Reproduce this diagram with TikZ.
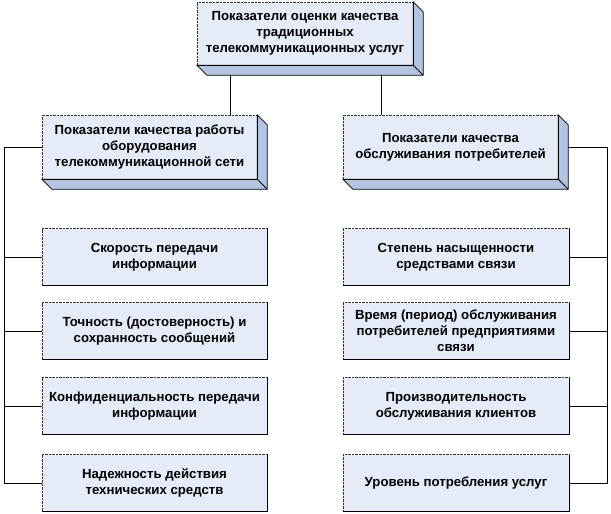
\documentclass[tikz,border=0pt]{standalone}
\usepackage{fontspec}
\setmainfont{Liberation Sans}
\usetikzlibrary{calc}
\definecolor{cardfill}{RGB}{230,236,247}
\definecolor{cardside}{RGB}{178,196,226}
\tikzset{
    card/.style={draw=black!80, densely dotted, fill=cardfill, align=center, inner sep=1pt,
        font=\bfseries\fontsize{13.2}{15.8}\selectfont},
    link/.style={line width=0.9pt}
}
% solid lower and right edges of a card
\newcommand{\cardedge}[1]{%
    \draw[line width=0.8pt] (#1.south west) -- (#1.south east) -- (#1.north east);
}
% raised card: side faces
\newcommand{\carddepth}[1]{%
    \filldraw[fill=cardside, line width=0.8pt] (#1.north east) -- ++(10,10) -- ($(#1.south east)+(10,10)$)
        -- ($(#1.south west)+(10,10)$) -- (#1.south west) -- (#1.south east) -- cycle;
    \draw[line width=0.8pt] (#1.south east) -- ++(10,10);
}
\begin{document}
\begin{tikzpicture}[x=1pt,y=-1pt]
\useasboundingbox (0,0) rectangle (611,514);
\node[card, minimum width=216, minimum height=63] (top) at (305,33.5)
    {Показатели оценки качества\\традиционных\\телекоммуникационных услуг};
\node[card, minimum width=215, minimum height=64] (lnet) at (149.5,147)
    {Показатели качества работы\\оборудования\\телекоммуникационной сети};
\node[card, minimum width=215, minimum height=64] (rnet) at (450.5,147)
    {Показатели качества\\обслуживания потребителей};
\foreach \n in {top,lnet,rnet}{
    \carddepth{\n}
    \cardedge{\n}
}
\foreach \i/\y/\ltext/\rtext in {1/257/{Скорость передачи\\информации}/{Степень насыщенности\\средствами связи},
    2/331/{Точность (достоверность) и\\сохранность сообщений}/{Время (период) обслуживания\\потребителей предприятиями\\связи},
    3/406/{Конфиденциальность передачи\\информации}/{Производительность\\обслуживания клиентов},
    4/483/{Надежность действия\\технических средств}/{Уровень потребления услуг}}{
    \node[card, minimum width=225, minimum height=57] (l\i) at (154.5,\y) {\ltext};
    \node[card, minimum width=226, minimum height=57] (r\i) at (456,\y) {\rtext};
    \cardedge{l\i}
    \cardedge{r\i}
}
% connectors
\coordinate (ltap) at (230,75);
\coordinate (rtap) at (381,75);
\coordinate (lbus) at (4,0);
\coordinate (rbus) at (607,0);
\draw[link] (ltap) -- (ltap |- lnet.north);
\draw[link] (rtap) -- (rtap |- rnet.north);
\draw[link] (lnet.west) -- (lnet.west -| lbus) -- (l4.west -| lbus) -- (l4.west);
\draw[link] ($(rnet.east)+(10,0)$) -- (rnet.east -| rbus) -- (r4.east -| rbus) -- (r4.east);
\foreach \i in {1,2,3}{
    \draw[link] (l\i.west -| lbus) -- (l\i.west);
    \draw[link] (r\i.east -| rbus) -- (r\i.east);
}
\end{tikzpicture}
\end{document}
